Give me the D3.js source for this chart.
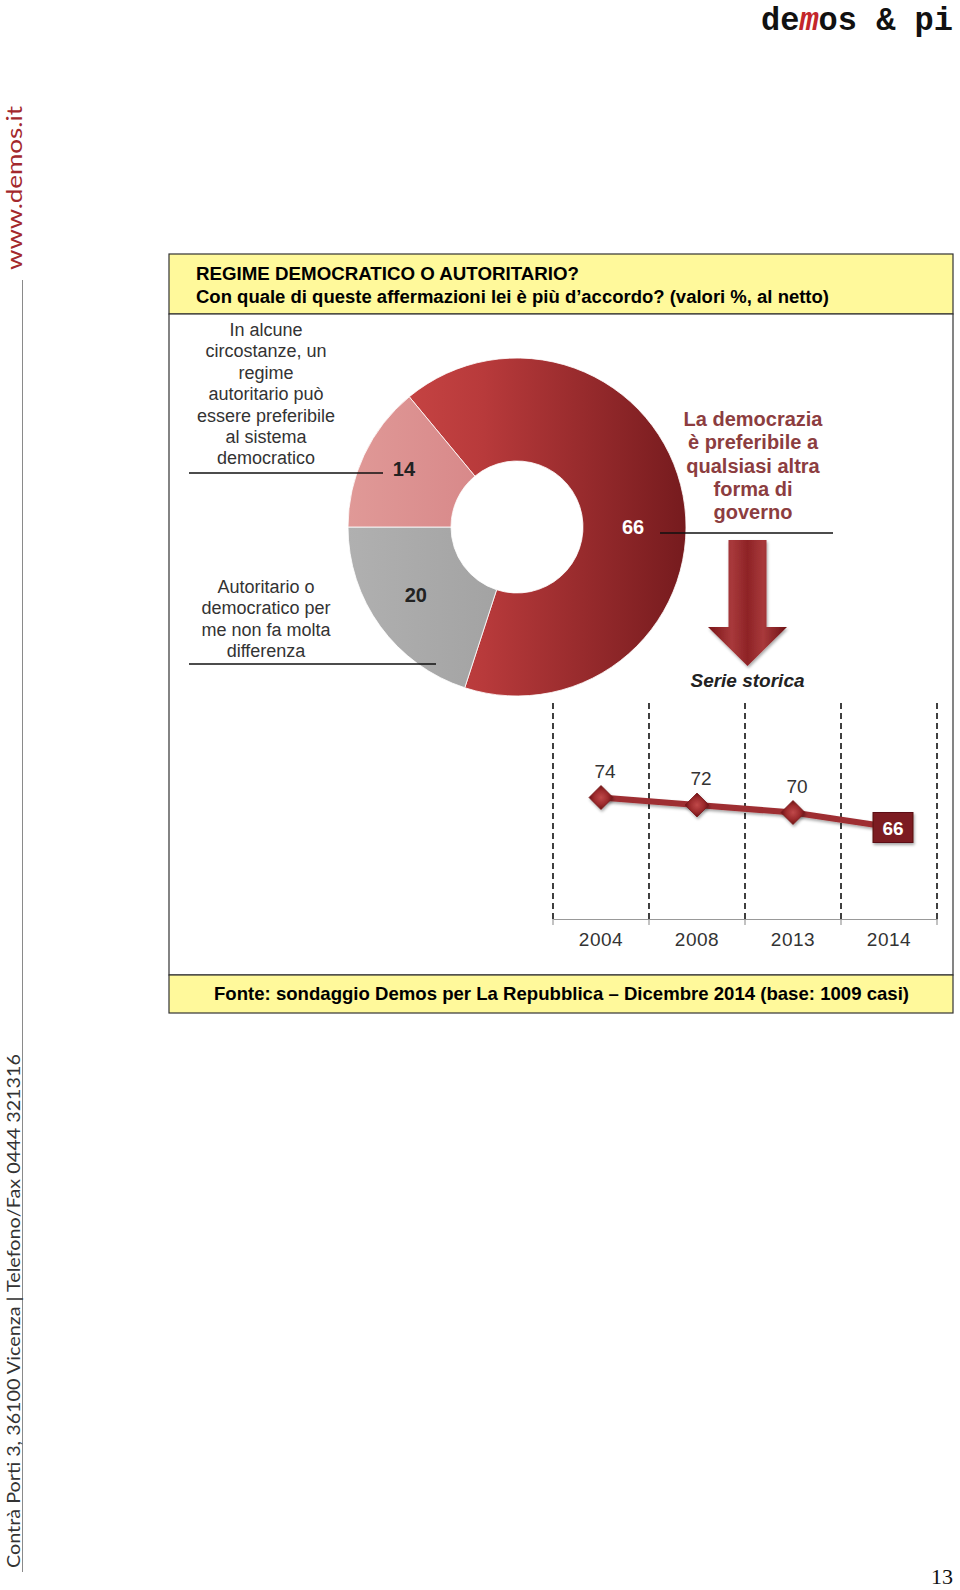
<!DOCTYPE html>
<html><head><meta charset="utf-8">
<script src="https://cdn.jsdelivr.net/npm/d3@7"></script>
<style>
body{margin:0;background:#fff}
svg{display:block}
text{font-family:"Liberation Sans",Arial,Helvetica,sans-serif}
</style>
</head><body>
<script>
// ---------- DATA ----------
const titleLines = ["REGIME DEMOCRATICO O AUTORITARIO?",
  "Con quale di queste affermazioni lei è più d’accordo? (valori %, al netto)"];
const sourceText = "Fonte: sondaggio Demos per La Repubblica – Dicembre 2014 (base: 1009 casi)";
const categories = ["democrazia", "indifferente", "autoritario"];
const values = [66, 20, 14];
const labelDemocrazia = ["La democrazia", "è preferibile a", "qualsiasi  altra", "forma di", "governo"];
const labelAutoritario = ["In alcune", "circostanze, un", "regime", "autoritario può", "essere preferibile", "al sistema", "democratico"];
const labelIndifferente = ["Autoritario o", "democratico per", "me non fa  molta", "differenza"];
const years = ["2004", "2008", "2013", "2014"];
const trend = [74, 72, 70, 66];
const serieLabel = "Serie storica";

// ---------- SETUP ----------
const W = 960, H = 1590;
const svg = d3.select("body").append("svg").attr("width", W).attr("height", H);
const defs = svg.append("defs");

const gRed = defs.append("linearGradient").attr("id", "gRed")
  .attr("gradientUnits", "userSpaceOnUse").attr("x1", -169).attr("y1", 0).attr("x2", 169).attr("y2", 0);
[[0, "#cf4a48"], [0.4, "#b83a3b"], [1, "#761b1e"]].forEach(s => gRed.append("stop").attr("offset", s[0]).attr("stop-color", s[1]));
const gPink = defs.append("linearGradient").attr("id", "gPink").attr("x1", 0).attr("y1", 0).attr("x2", 1).attr("y2", 0);
[[0, "#e09997"], [1, "#d8898a"]].forEach(s => gPink.append("stop").attr("offset", s[0]).attr("stop-color", s[1]));
const gGray = defs.append("linearGradient").attr("id", "gGray").attr("x1", 0).attr("y1", 0).attr("x2", 1).attr("y2", 0);
[[0, "#b0b0b0"], [1, "#a3a3a3"]].forEach(s => gGray.append("stop").attr("offset", s[0]).attr("stop-color", s[1]));
const gArrow = defs.append("linearGradient").attr("id", "gArrow").attr("x1", 0).attr("y1", 0).attr("x2", 1).attr("y2", 0);
[[0, "#7a1518"], [0.3, "#a8393b"], [0.5, "#8e2326"], [0.7, "#a8393b"], [1, "#6e1215"]].forEach(s => gArrow.append("stop").attr("offset", s[0]).attr("stop-color", s[1]));
const gDiamond = defs.append("radialGradient").attr("id", "gDiamond");
[[0, "#c0494a"], [0.6, "#9c2a2c"], [1, "#6a1214"]].forEach(s => gDiamond.append("stop").attr("offset", s[0]).attr("stop-color", s[1]));
const shadow = defs.append("filter").attr("id", "shadow").attr("x", "-30%").attr("y", "-30%").attr("width", "160%").attr("height", "160%");
shadow.append("feDropShadow").attr("dx", 1).attr("dy", 2).attr("stdDeviation", 1.5).attr("flood-color", "#000").attr("flood-opacity", 0.35);

// ---------- PAGE DECORATIONS ----------
// logo, drawn as three pieces
const logoParts = [["de", "#111", "normal", 2], ["m", "#c4262b", "italic", 1], ["os & pi", "#111", "normal", 7]];
const charW = 19.2;
let lx = 761;
logoParts.forEach(([t, c, st, n]) => {
  svg.append("text").attr("x", lx).attr("y", 30)
    .attr("textLength", n * charW).attr("lengthAdjust", "spacingAndGlyphs")
    .style("font-family", "'Liberation Mono','DejaVu Sans Mono',monospace")
    .style("font-weight", "bold").style("font-size", "34px").style("font-style", st)
    .attr("fill", c).text(t);
  lx += n * charW;
});

// vertical side texts
svg.append("text").attr("transform", "translate(22,270) rotate(-90)")
  .attr("textLength", 164).attr("lengthAdjust", "spacingAndGlyphs")
  .style("font-family", "Lato,'Open Sans',sans-serif").style("font-size", "22px")
  .attr("fill", "#a3282c").text("www.demos.it");
svg.append("line").attr("x1", 22.5).attr("x2", 22.5).attr("y1", 280).attr("y2", 1572)
  .attr("stroke", "#8a8a8a").attr("stroke-width", 1);
svg.append("text").attr("transform", "translate(20,1568) rotate(-90)")
  .attr("textLength", 514).attr("lengthAdjust", "spacingAndGlyphs")
  .style("font-family", "Lato,'Open Sans',sans-serif").style("font-size", "18px")
  .attr("fill", "#333").text("Contrà Porti 3, 36100 Vicenza |  Telefono/Fax 0444 321316");
svg.append("text").attr("x", 953).attr("y", 1584).attr("text-anchor", "end")
  .style("font-family", "'Liberation Serif','Times New Roman',serif").style("font-size", "22px")
  .attr("fill", "#111").text("13");

// ---------- FRAME ----------
const box = {x0: 169, x1: 953, y0: 254, yh: 314, yf: 975, y1: 1013};
svg.append("rect").attr("x", box.x0).attr("y", box.y0).attr("width", box.x1 - box.x0).attr("height", box.yh - box.y0)
  .attr("fill", "#fff99b").attr("stroke", "#333").attr("stroke-width", 1.2);
svg.append("rect").attr("x", box.x0).attr("y", box.yh).attr("width", box.x1 - box.x0).attr("height", box.yf - box.yh)
  .attr("fill", "#fff").attr("stroke", "#333").attr("stroke-width", 1.2);
svg.append("rect").attr("x", box.x0).attr("y", box.yf).attr("width", box.x1 - box.x0).attr("height", box.y1 - box.yf)
  .attr("fill", "#fff99b").attr("stroke", "#333").attr("stroke-width", 1.2);

const titleW = [383, 633];
titleLines.forEach((t, i) => {
  svg.append("text").attr("x", 196).attr("y", 280 + i * 23)
    .attr("textLength", titleW[i]).attr("lengthAdjust", "spacingAndGlyphs")
    .style("font-weight", "bold").style("font-size", "18px").attr("fill", "#000").text(t);
});
svg.append("text").attr("x", 214).attr("y", 1000)
  .attr("textLength", 695).attr("lengthAdjust", "spacingAndGlyphs")
  .style("font-weight", "bold").style("font-size", "19px").attr("fill", "#000").text(sourceText);

// ---------- DONUT ----------
const cx = 517, cy = 527, rOuter = 169, rInner = 66;
const start = -39.6 * Math.PI / 180;
const pie = d3.pie().sort(null).startAngle(start).endAngle(start + 2 * Math.PI);
const arc = d3.arc().innerRadius(rInner).outerRadius(rOuter);
const fills = {democrazia: "url(#gRed)", indifferente: "url(#gGray)", autoritario: "url(#gPink)"};
const arcs = pie(values).map((d, i) => Object.assign(d, {cat: categories[i]}));
const gD = svg.append("g").attr("transform", `translate(${cx},${cy})`);
gD.selectAll("path").data(arcs).join("path")
  .attr("d", arc).attr("fill", d => fills[d.cat]).attr("stroke", "#fff").attr("stroke-width", 0.8);

const maxV = d3.max(values);
gD.selectAll("text.num").data(arcs).join("text").attr("class", "num")
  .each(function(d) {
    const big = d.value === maxV;
    const r = big ? 116 : 125;
    const a = big ? Math.PI / 2 : (d.startAngle + d.endAngle) / 2;
    const c = d3.arc().innerRadius(r).outerRadius(r).centroid({startAngle: a, endAngle: a});
    d3.select(this).attr("x", c[0]).attr("y", c[1] + (big ? 7 : 2))
      .attr("text-anchor", "middle")
      .attr("fill", big ? "#fff" : "#222");
  })
  .style("font-weight", "bold").style("font-size", "20px").text(d => d.value);

// category labels
function block(lines, x, y0, step, style) {
  const t = svg.append("text").attr("text-anchor", "middle");
  Object.entries(style).forEach(([k, v]) => t.style(k, v));
  lines.forEach((l, i) => t.append("tspan").attr("x", x).attr("y", y0 + i * step).text(l));
  return t;
}
block(labelAutoritario, 266, 336, 21.4, {"font-size": "18px", fill: "#333"});
block(labelIndifferente, 266, 593, 21.4, {"font-size": "18px", fill: "#333"});
block(labelDemocrazia, 753, 426, 23.3, {"font-size": "20px", "font-weight": "bold", fill: "#8c3d40"});

svg.append("line").attr("x1", 189).attr("x2", 383).attr("y1", 473).attr("y2", 473).attr("stroke", "#111").attr("stroke-width", 1.3);
svg.append("line").attr("x1", 189).attr("x2", 436).attr("y1", 664).attr("y2", 664).attr("stroke", "#111").attr("stroke-width", 1.3);
svg.append("line").attr("x1", 660).attr("x2", 833).attr("y1", 533).attr("y2", 533).attr("stroke", "#111").attr("stroke-width", 1.3);

// arrow
const ax = 747.5, shaftW = 38, headW = 79, aTop = 540, headY = 627, tip = 666;
svg.append("path").attr("filter", "url(#shadow)")
  .attr("d", d3.line()([[ax - shaftW / 2, aTop], [ax + shaftW / 2, aTop], [ax + shaftW / 2, headY], [ax + headW / 2, headY],
    [ax, tip], [ax - headW / 2, headY], [ax - shaftW / 2, headY]]) + "Z")
  .attr("fill", "url(#gArrow)");
svg.append("text").attr("x", ax).attr("y", 687).attr("text-anchor", "middle")
  .style("font-size", "19px").style("font-weight", "bold").style("font-style", "italic")
  .attr("fill", "#222").text(serieLabel);

// ---------- LINE CHART ----------
const x = d3.scaleBand().domain(years).range([553, 937]).paddingInner(0).paddingOuter(0);
const y = d3.scaleLinear().domain([40, 80]).range([925, 775]);
const axisY = 919, topY = 703;
const bounds = years.map(yr => x(yr)).concat([x.range()[1]]);
svg.append("g").selectAll("line").data(bounds).join("line")
  .attr("x1", d => d).attr("x2", d => d).attr("y1", topY).attr("y2", axisY)
  .attr("stroke", "#111").attr("stroke-width", 1.6).attr("stroke-dasharray", "6,4");
const xAxis = svg.append("g").attr("transform", `translate(0,${axisY})`)
  .call(d3.axisBottom(x).tickSize(0).tickPadding(14));
xAxis.select(".domain").attr("stroke", "#999").attr("stroke-width", 1.2);
xAxis.selectAll("text").style("font-size", "19px").style("font-family", "'Liberation Sans',Arial,sans-serif")
  .attr("fill", "#333").attr("dy", "0.71em").attr("letter-spacing", "0.5px");
xAxis.selectAll(".tick line").remove();
svg.append("g").selectAll("line").data(bounds).join("line")
  .attr("x1", d => d).attr("x2", d => d).attr("y1", axisY).attr("y2", axisY + 6)
  .attr("stroke", "#999").attr("stroke-width", 1.2);

const pts = years.map((yr, i) => ({yr, v: trend[i], px: x(yr) + x.bandwidth() / 2 + (i === years.length - 1 ? 4 : 0), py: y(trend[i])}));
svg.append("path").datum(pts).attr("filter", "url(#shadow)")
  .attr("d", d3.line().x(d => d.px).y(d => d.py))
  .attr("fill", "none").attr("stroke", "#9e2d30").attr("stroke-width", 6).attr("stroke-linecap", "round");
const dm = 12;
svg.append("g").selectAll("path").data(pts.slice(0, -1)).join("path").attr("filter", "url(#shadow)")
  .attr("d", d => `M${d.px},${d.py - dm}L${d.px + dm},${d.py}L${d.px},${d.py + dm}L${d.px - dm},${d.py}Z`)
  .attr("fill", "url(#gDiamond)").attr("stroke", "#7a1a1c").attr("stroke-width", 0.8);
svg.append("g").selectAll("text").data(pts.slice(0, -1)).join("text")
  .attr("x", d => d.px + 4).attr("y", d => d.py - 20).attr("text-anchor", "middle")
  .style("font-size", "19px").attr("fill", "#333").text(d => d.v);
const last = pts[pts.length - 1];
svg.append("rect").attr("filter", "url(#shadow)")
  .attr("x", last.px - 20).attr("y", last.py - 15).attr("width", 40).attr("height", 30)
  .attr("fill", "#7b1d21").attr("stroke", "#5c0f12").attr("stroke-width", 1);
svg.append("text").attr("x", last.px).attr("y", last.py + 7).attr("text-anchor", "middle")
  .style("font-size", "19px").style("font-weight", "bold").attr("fill", "#fff").text(last.v);
</script>
</body></html>
